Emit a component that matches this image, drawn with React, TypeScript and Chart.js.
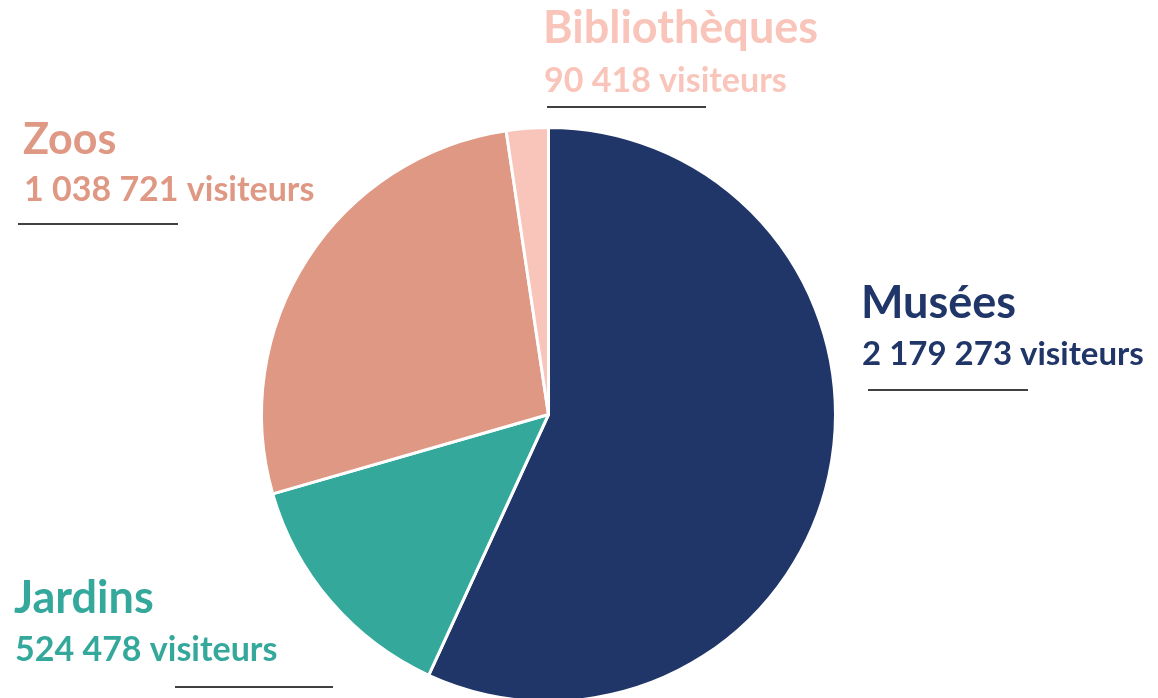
import React, { useEffect, useRef } from "react";
import { Chart, registerables } from "chart.js";

Chart.register(...registerables);

const categories = ["Musées", "Jardins", "Zoos", "Bibliothèques"];
const visitors = [2179273, 524478, 1038721, 90418];
const colors = ["#213668", "#34A89B", "#DF9883", "#F9C4B9"];

const fmt = (n: number) => String(n).replace(/\B(?=(\d{3})+(?!\d))/g, " ");

// label placement per category (x, baseline of name, baseline of value, underline)
const labelPos = [
  { x: 861, y1: 318, y2: 365, s1: 45, s2: 33, lx1: 868, lx2: 1028, ly: 390 },
  { x: 14, y1: 613, y2: 661, s1: 45, s2: 34, lx1: 175, lx2: 333, ly: 687 },
  { x: 23, y1: 154, y2: 201, s1: 43, s2: 34, lx1: 18, lx2: 178, ly: 224 },
  { x: 543, y1: 43, y2: 92, s1: 45, s2: 34, lx1: 547, lx2: 706, ly: 107 },
];

const labelPlugin = {
  id: "sideLabels",
  afterDraw(chart: any) {
    const ctx = chart.ctx;
    ctx.save();
    ctx.textBaseline = "alphabetic";
    ctx.textAlign = "left";
    categories.forEach((c, i) => {
      const p = labelPos[i];
      ctx.fillStyle = colors[i];
      ctx.font = `bold ${p.s1}px Lato`;
      ctx.fillText(c, p.x, p.y1);
      ctx.font = `bold ${p.s2}px Lato`;
      ctx.fillText(`${fmt(visitors[i])} visiteurs`, p.x + 1, p.y2);
      ctx.strokeStyle = "#404040";
      ctx.lineWidth = 2;
      ctx.beginPath();
      ctx.moveTo(p.lx1, p.ly);
      ctx.lineTo(p.lx2, p.ly);
      ctx.stroke();
    });
    ctx.restore();
  },
};

export default function App() {
  const ref = useRef<HTMLCanvasElement>(null);
  useEffect(() => {
    if (!ref.current) return;
    const chart = new Chart(ref.current, {
      type: "pie",
      data: {
        labels: categories,
        datasets: [
          {
            data: visitors,
            backgroundColor: colors,
            borderColor: "#ffffff",
            borderWidth: 3,
          },
        ],
      },
      options: {
        responsive: false,
        animation: false,
        layout: { padding: { left: 260, right: 321, top: 126, bottom: 17 } },
        plugins: { legend: { display: false }, tooltip: { enabled: false } },
      },
      plugins: [labelPlugin],
    });
    return () => chart.destroy();
  }, []);
  return (
    <div
      style={{
        position: "fixed",
        left: 0,
        top: 0,
        width: 1158,
        height: 698,
        overflow: "hidden",
        background: "#ffffff",
      }}
    >
      <canvas ref={ref} width={1158} height={720} style={{ display: "block" }} />
    </div>
  );
}
